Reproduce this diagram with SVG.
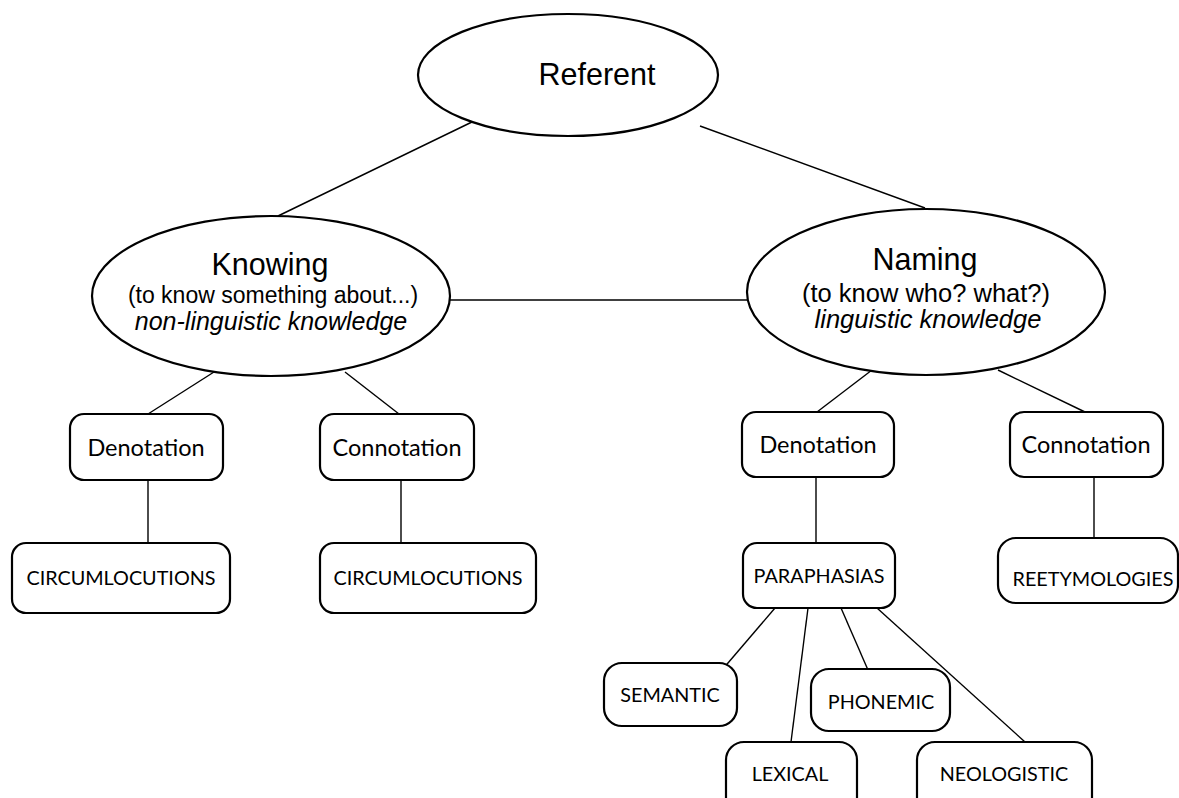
<svg xmlns="http://www.w3.org/2000/svg" width="1179" height="798" viewBox="0 0 1179 798">
<style>
.bg{fill:#fff}
.ell{fill:#fff;stroke:#000;stroke-width:2.2}
.box{fill:#fff;stroke:#000;stroke-width:2.2}
.ln{stroke:#000;stroke-width:1.4;fill:none}
.t1{font-family:"Liberation Sans",Arial,sans-serif;fill:#000;text-anchor:middle}
.big{font-size:30.5px}
.mid{font-size:23px}
.it{font-style:italic}
.nm{font-size:25.5px}
.bx{font-family:Lato,"Open Sans",sans-serif;fill:#000;text-anchor:middle;font-size:23.5px}
.up{font-size:19.8px}
</style>
<rect class="bg" x="0" y="0" width="1179" height="798"/>
<g id="connectors">
<line class="ln" x1="474" y1="121" x2="278" y2="216"/>
<line class="ln" x1="700" y1="126" x2="925" y2="208"/>
<line class="ln" x1="450" y1="300" x2="747" y2="300"/>
<line class="ln" x1="214" y1="372" x2="148" y2="414"/>
<line class="ln" x1="345" y1="372" x2="399" y2="414"/>
<line class="ln" x1="148" y1="480" x2="148" y2="543"/>
<line class="ln" x1="401" y1="480" x2="401" y2="543"/>
<line class="ln" x1="872" y1="370" x2="817" y2="412"/>
<line class="ln" x1="998" y1="370" x2="1085" y2="412"/>
<line class="ln" x1="816" y1="477" x2="816" y2="543"/>
<line class="ln" x1="1094" y1="477" x2="1094" y2="538"/>
<line class="ln" x1="775" y1="608" x2="722" y2="670"/>
<line class="ln" x1="808" y1="608" x2="791" y2="742"/>
<line class="ln" x1="841" y1="608" x2="868" y2="670"/>
<line class="ln" x1="877" y1="608" x2="1025" y2="742"/>
</g>
<g id="referent">
<ellipse class="ell" cx="568" cy="75" rx="150" ry="61"/>
<text class="t1 big" x="597" y="85">Referent</text>
</g>
<g id="knowing">
<ellipse class="ell" cx="271" cy="296" rx="179" ry="80"/>
<text class="t1 big" x="270" y="275">Knowing</text>
<text class="t1 mid" x="273" y="303">(to know something about...)</text>
<text class="t1 it" style="font-size:25px" x="271" y="330">non-linguistic knowledge</text>
</g>
<g id="naming">
<ellipse class="ell" cx="926" cy="292" rx="179" ry="83"/>
<text class="t1 big" x="925" y="270">Naming</text>
<text class="t1 nm" x="926" y="302">(to know who? what?)</text>
<text class="t1 nm it" x="928" y="328">linguistic knowledge</text>
</g>
<g id="denotation-left">
<rect class="box" x="70" y="414" width="153" height="66" rx="14"/>
<text class="bx" x="146" y="456">Denotation</text>
</g>
<g id="connotation-left">
<rect class="box" x="320" y="414" width="154" height="66" rx="14"/>
<text class="bx" x="397" y="456">Connotation</text>
</g>
<g id="circum-left">
<rect class="box" x="12" y="543" width="218" height="70" rx="14"/>
<text class="bx up" x="121" y="585">CIRCUMLOCUTIONS</text>
</g>
<g id="circum-right">
<rect class="box" x="320" y="543" width="216" height="70" rx="14"/>
<text class="bx up" x="428" y="585">CIRCUMLOCUTIONS</text>
</g>
<g id="denotation-right">
<rect class="box" x="742" y="412" width="152" height="65" rx="14"/>
<text class="bx" x="818" y="453">Denotation</text>
</g>
<g id="connotation-right">
<rect class="box" x="1010" y="412" width="153" height="65" rx="14"/>
<text class="bx" x="1086" y="453">Connotation</text>
</g>
<g id="paraphasias">
<rect class="box" x="743" y="543" width="152" height="65" rx="14"/>
<text class="bx up" x="819" y="583">PARAPHASIAS</text>
</g>
<g id="reetymologies">
<rect class="box" x="998" y="538" width="180" height="65" rx="18"/>
<text class="bx up" x="1093" y="586">REETYMOLOGIES</text>
</g>
<g id="semantic">
<rect class="box" x="604" y="663" width="133" height="63" rx="18"/>
<text class="bx up" x="670" y="702">SEMANTIC</text>
</g>
<g id="phonemic">
<rect class="box" x="811" y="669" width="139" height="62" rx="18"/>
<text class="bx up" x="881" y="709">PHONEMIC</text>
</g>
<g id="lexical">
<rect class="box" x="726" y="742" width="131" height="80" rx="18"/>
<text class="bx up" x="790" y="781">LEXICAL</text>
</g>
<g id="neologistic">
<rect class="box" x="917" y="742" width="175" height="80" rx="18"/>
<text class="bx up" x="1004" y="781">NEOLOGISTIC</text>
</g>
</svg>
